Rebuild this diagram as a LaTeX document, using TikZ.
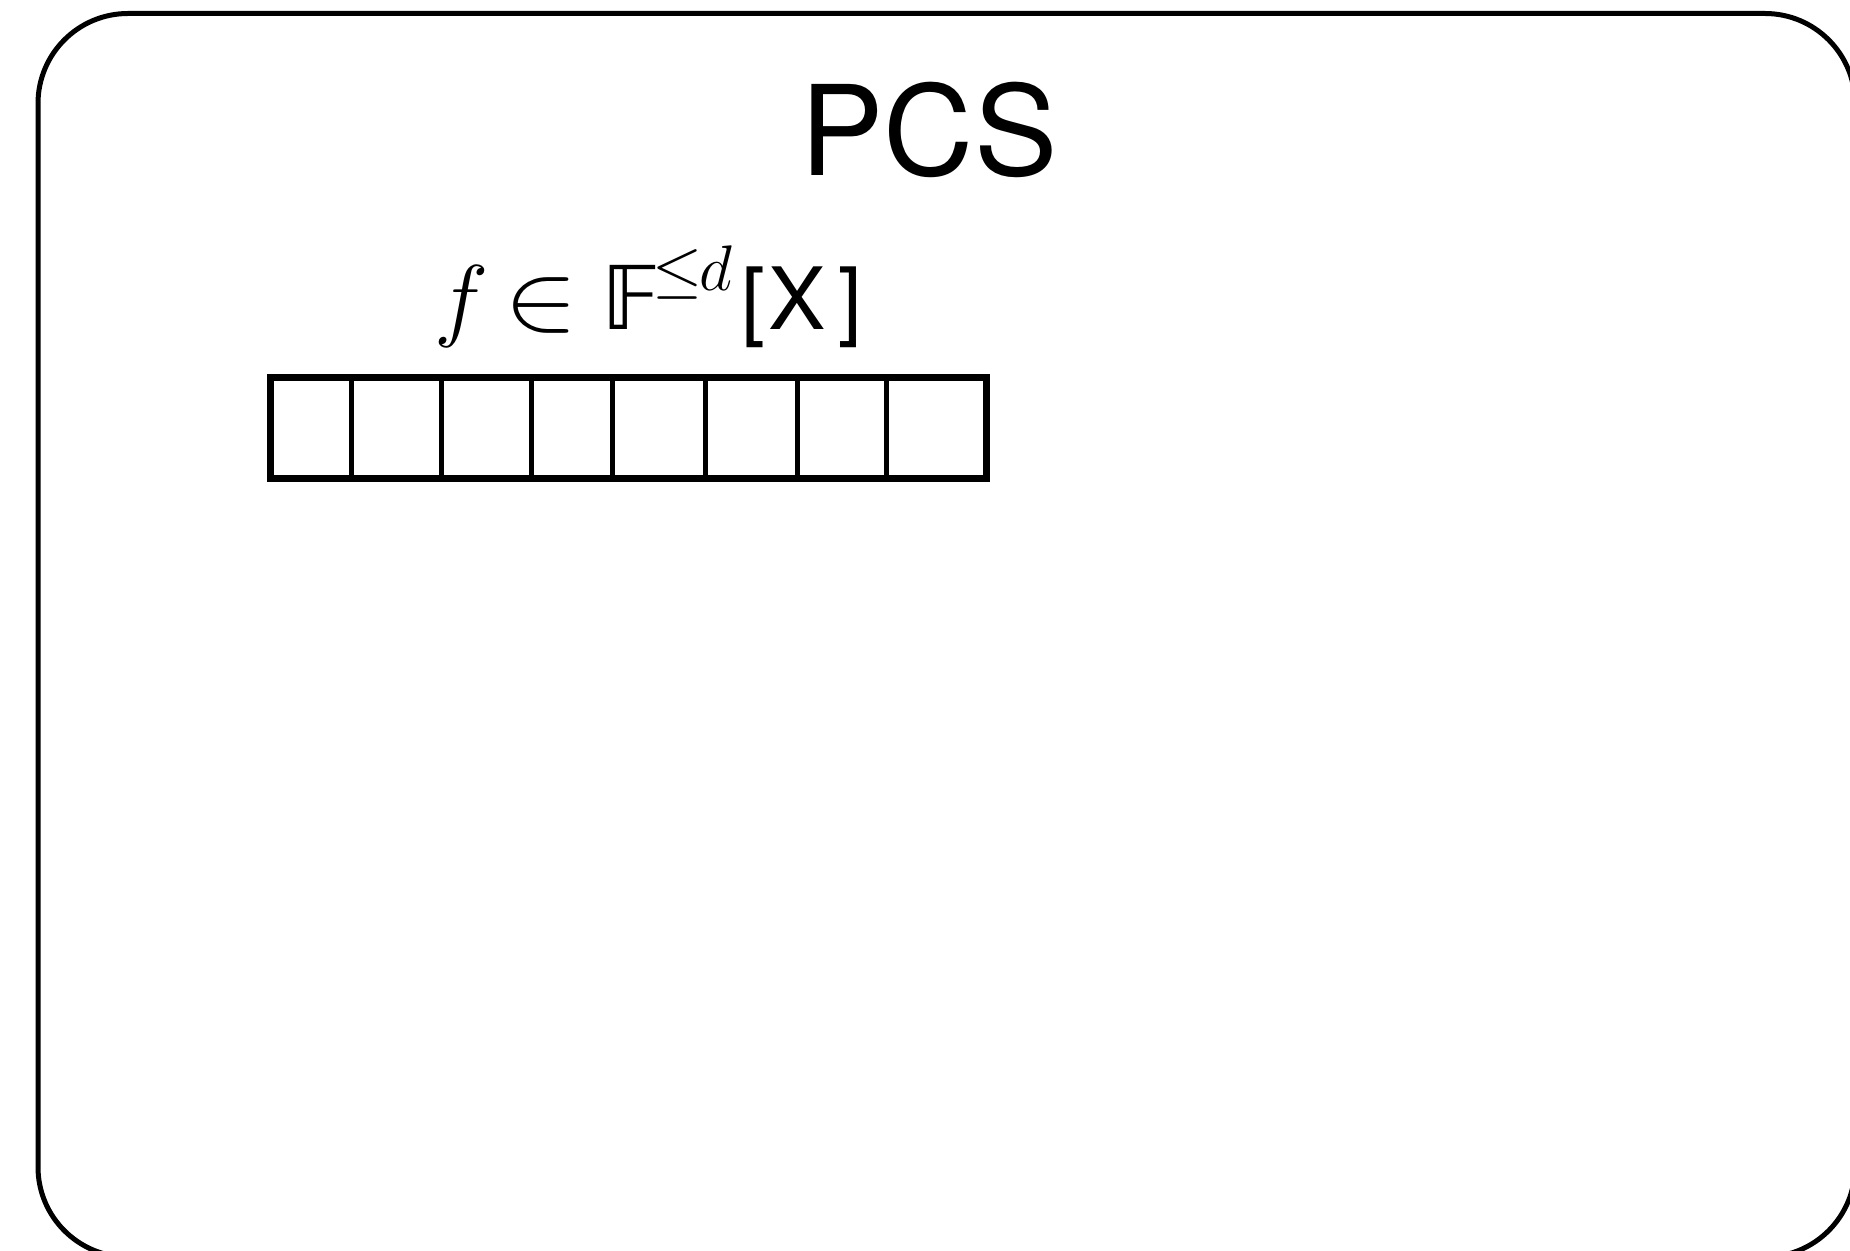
\RequirePackage{fix-cm}
\documentclass[tikz,border=0pt]{standalone}
\usepackage{amssymb}
\usepackage{graphicx}
\usepackage{fontspec}
\newfontfamily\heros{TeX Gyre Heros}
\newfontfamily\dejavu{DejaVu Sans}
\begin{document}
\begin{tikzpicture}[x=0.25pt,y=-0.25pt,
  frame/.style={line width=1.25pt, rounded corners=22.5pt},
  arrayouter/.style={line width=1.875pt},
  divider/.style={line width=1.25pt},
  title/.style={font=\heros\fontsize{31.25}{36}\selectfont, inner sep=0pt, anchor=base},
  formula/.style={inner sep=0pt, anchor=base west}]
\useasboundingbox (0,0) rectangle (1850,1251);
\clip (0,0) rectangle (1850,1251);
\draw[frame] (38,13.5) rectangle (1855,1257);
\node[title] (pcs) at (929,176) {PCS};
\node[formula] (poly) at (434,330) {\fontsize{23}{28}\selectfont$f\mskip-2mu\mathrel{\scalebox{1.15}[1]{\fontsize{24}{28}\selectfont$\in$}}\mskip-0.4mu\mbox{\dejavu\fontsize{22}{26}\selectfont 𝔽}^{\kern-2pt\leq\kern-0.8pt d}$\kern1.75pt{\heros\fontsize{21.5}{26}\selectfont[\kern0.85pt X\kern3.1pt]}};
\draw[arrayouter] (270.7,377.5) rectangle (986.3,478.5);
\foreach \x in {351.5,441.5,531,612,705,797,886.5}
  \draw[divider] (\x,377.5) -- (\x,478.5);
\end{tikzpicture}
\end{document}
